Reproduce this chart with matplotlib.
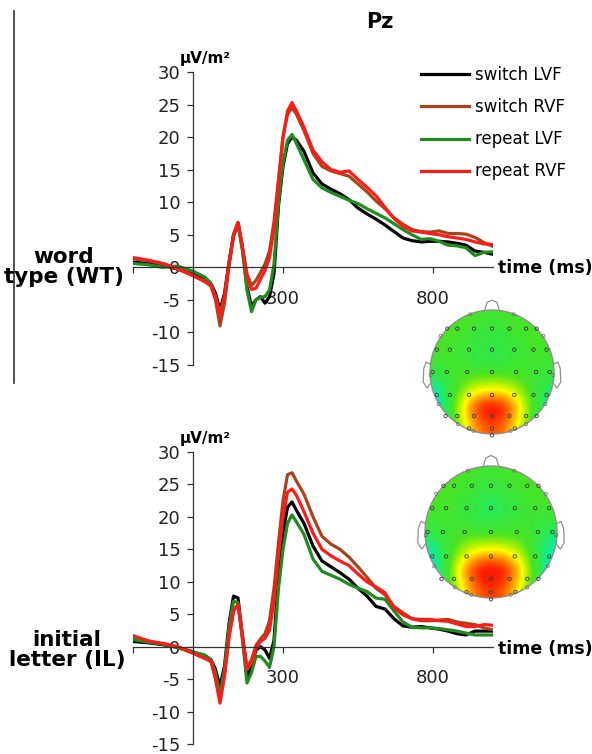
import numpy as np
import matplotlib.pyplot as plt
from matplotlib.colors import LinearSegmentedColormap
from matplotlib.patches import Circle
from matplotlib.lines import Line2D

plt.rcParams['axes.unicode_minus'] = False

# time axis (ms)
times = [-200, -150, -100, -50, 0, 40, 60, 75, 90, 105, 120, 135, 150, 165, 180, 195,
         210, 225, 240, 255, 270, 285, 300, 315, 330, 345, 370, 400, 430, 460, 490, 520,
         550, 580, 610, 640, 670, 700, 730, 760, 790, 820, 850, 880, 910, 940, 970, 1000]

# word type (WT) panel, uV/m^2
wt_switch_lvf = [0.8, 0.6, 0.3, -0.3, -1.0, -1.6, -2.5, -4.0, -6.6, -4.0, 0.8, 5.0, 6.8, 3.0, -3.0, -6.0,
                 -5.0, -4.5, -5.5, -4.5, -1.0, 9.5, 15.5, 19.0, 20.0, 19.5, 17.8, 14.5, 12.8, 12.0, 11.3, 10.4,
                 9.1, 8.2, 7.4, 6.5, 5.5, 4.5, 4.1, 3.9, 4.0, 4.0, 3.9, 3.7, 3.4, 2.5, 2.3, 2.0]
wt_switch_rvf = [1.3, 1.0, 0.5, -0.3, -1.3, -2.2, -2.9, -5.0, -9.0, -5.5, 0.2, 4.8, 6.8, 3.0, -1.0, -2.8,
                 -2.0, -0.8, 0.5, 2.5, 7.0, 13.5, 20.0, 23.5, 24.5, 23.5, 21.0, 17.5, 15.5, 14.8, 14.4, 14.0,
                 12.8, 11.6, 10.2, 9.0, 7.6, 6.6, 5.8, 5.5, 5.4, 5.6, 5.2, 5.2, 5.1, 4.6, 3.8, 3.2]
wt_repeat_lvf = [0.6, 0.4, 0.0, 0.2, -0.6, -1.5, -2.5, -4.5, -7.0, -4.5, 0.5, 4.8, 6.5, 2.5, -3.5, -6.8,
                 -5.0, -4.6, -4.5, -3.5, 0.5, 10.0, 16.0, 19.5, 20.4, 19.0, 16.5, 13.5, 12.2, 11.5, 10.9, 10.3,
                 9.8, 9.0, 8.3, 7.6, 6.7, 5.8, 5.0, 4.3, 4.4, 4.0, 3.4, 3.3, 3.0, 1.8, 2.3, 2.4]
wt_repeat_rvf = [1.5, 1.1, 0.6, -0.2, -1.2, -2.2, -2.8, -4.5, -7.4, -4.5, 0.5, 5.0, 6.9, 3.0, -1.5, -3.4,
                 -3.2, -1.8, -0.5, 1.5, 6.0, 13.0, 20.0, 24.0, 25.3, 24.0, 21.5, 18.0, 16.2, 15.0, 14.6, 14.8,
                 13.5, 12.3, 11.0, 9.2, 7.5, 6.3, 5.6, 5.4, 5.2, 5.0, 4.7, 4.5, 4.3, 3.9, 3.6, 3.5]

# initial letter (IL) panel, uV/m^2
il_switch_lvf = [0.8, 0.6, 0.3, -0.1, -0.8, -1.5, -2.0, -3.5, -6.1, -3.0, 3.5, 7.8, 7.5, 1.5, -4.8, -3.0,
                 -0.5, 0.0, -0.5, -1.8, 1.0, 11.0, 17.5, 21.5, 22.3, 21.0, 19.0, 15.5, 13.2, 12.3, 11.4, 10.4,
                 9.0, 7.8, 6.2, 5.8, 4.3, 3.2, 3.0, 3.1, 2.9, 2.7, 2.4, 2.0, 1.8, 2.4, 2.4, 2.4]
il_switch_rvf = [1.4, 0.8, 0.4, -0.1, -1.0, -1.8, -2.3, -4.8, -8.0, -4.3, 1.5, 5.5, 6.5, 1.8, -3.2, -2.0,
                 0.2, 1.2, 2.0, 4.0, 9.0, 16.0, 22.5, 26.5, 26.8, 25.5, 23.5, 20.0, 17.0, 15.8, 15.0, 13.8,
                 12.3, 10.7, 9.0, 8.0, 6.2, 5.2, 4.3, 4.0, 4.0, 4.1, 4.2, 3.8, 3.6, 3.4, 2.9, 2.6]
il_repeat_lvf = [1.1, 0.7, 0.4, -0.2, -0.8, -1.3, -2.0, -4.0, -7.4, -3.5, 3.0, 7.0, 6.8, 1.0, -5.6, -4.0,
                 -1.5, -1.5, -2.2, -3.2, 0.0, 9.0, 15.0, 19.0, 20.3, 19.2, 17.3, 13.5, 11.6, 11.0, 10.4, 9.6,
                 9.0, 8.5, 7.5, 7.3, 5.5, 3.8, 3.0, 2.9, 2.9, 2.8, 2.6, 2.4, 2.1, 1.8, 1.8, 1.8]
il_repeat_rvf = [1.7, 0.9, 0.5, 0.0, -1.0, -1.8, -2.2, -5.0, -8.7, -4.5, 1.5, 5.5, 6.5, 1.5, -3.5, -2.5,
                 -0.2, 0.8, 1.3, 2.5, 7.0, 14.0, 20.0, 23.8, 24.3, 23.3, 20.8, 17.5, 15.0, 14.0, 13.2, 12.5,
                 11.2, 10.0, 9.2, 8.3, 6.0, 4.9, 4.3, 4.2, 4.2, 4.0, 3.9, 3.5, 3.1, 3.1, 3.4, 3.3]

labels = ['switch LVF', 'switch RVF', 'repeat LVF', 'repeat RVF']
colors = ['#000000', '#a8441c', '#1e8c1e', '#ff1a1a']

# scalp maps: relative amplitude on a coarse grid (front row first)
wt_topo = [[0.56, 0.57, 0.55, 0.53, 0.55, 0.57, 0.56],
           [0.57, 0.55, 0.51, 0.48, 0.51, 0.55, 0.57],
           [0.55, 0.53, 0.49, 0.46, 0.49, 0.53, 0.55],
           [0.50, 0.55, 0.54, 0.53, 0.54, 0.55, 0.50],
           [0.40, 0.56, 0.66, 0.70, 0.66, 0.56, 0.45],
           [0.35, 0.62, 0.90, 0.98, 0.90, 0.62, 0.42],
           [0.40, 0.57, 0.78, 0.88, 0.78, 0.57, 0.45]]
il_topo = [[0.56, 0.57, 0.55, 0.53, 0.55, 0.57, 0.56],
           [0.57, 0.55, 0.50, 0.47, 0.50, 0.55, 0.56],
           [0.55, 0.53, 0.48, 0.44, 0.48, 0.53, 0.53],
           [0.48, 0.55, 0.54, 0.52, 0.54, 0.55, 0.45],
           [0.40, 0.56, 0.67, 0.72, 0.67, 0.56, 0.40],
           [0.35, 0.64, 0.92, 0.99, 0.92, 0.64, 0.36],
           [0.40, 0.58, 0.80, 0.90, 0.80, 0.58, 0.40]]

# electrode layout (head radius = 1)
elec_rows = [(0.70, [-0.72, -0.56, -0.29, 0.0, 0.28, 0.55, 0.72]),
             (0.36, [-0.89, -0.68, -0.37, 0.0, 0.36, 0.67, 0.88]),
             (0.0, [-0.96, -0.73, -0.40, 0.0, 0.39, 0.71, 0.93]),
             (-0.37, [-0.89, -0.68, -0.37, 0.0, 0.36, 0.67, 0.88]),
             (-0.71, [-0.75, -0.56, -0.29, 0.0, 0.28, 0.55, 0.72]),
             (-0.91, [-0.37, 0.0, 0.37]),
             (-1.02, [0.0])]
rim_x = [-0.35, 0.35, -0.83, 0.83, -0.99, 0.99, -0.86, 0.86, -0.55, 0.55, -0.30, 0.30]
rim_y = [0.93, 0.93, 0.58, 0.58, -0.05, -0.05, -0.52, -0.52, -0.84, -0.84, -0.95, -0.95]

W, H = 592, 754


def box(left, top, w, h):
    return [left / W, 1 - (top + h) / H, w / W, h / H]


def fx(x):
    return x / W


def fy(y):
    return 1 - y / H


topo_cmap = LinearSegmentedColormap.from_list(
    'topo', [(0.0, '#0030ff'), (0.25, '#00e0ff'), (0.42, '#10ec98'), (0.48, '#30e848'),
             (0.56, '#48e424'), (0.63, '#a8f000'), (0.70, '#ffff00'), (0.80, '#ff8c00'),
             (0.90, '#ff2000'), (1.0, '#d00000')])

fig = plt.figure(figsize=(5.92, 7.54), dpi=100)


def erp_panel(rect, series, legend=False):
    ax = fig.add_axes(rect)
    for vals, c, lab in zip(series, colors, labels):
        ax.plot(times, vals, color=c, lw=2.3, label=lab)
    ax.set_xlim(-200, 1000)
    ax.set_ylim(-15, 30)
    ax.spines['left'].set_position(('data', 0))
    ax.spines['bottom'].set_position(('data', 0))
    ax.spines['top'].set_visible(False)
    ax.spines['right'].set_visible(False)
    for s in ('left', 'bottom'):
        ax.spines[s].set_color('#333333')
        ax.spines[s].set_linewidth(0.9)
    ax.set_yticks(range(-15, 31, 5))
    ax.set_xticks([-200, 300, 800])
    ax.set_xticklabels(['', '300', '800'])
    ax.tick_params(axis='y', direction='out', length=4, width=0.9, color='#333333',
                   labelsize=13, pad=5, labelcolor='#222222')
    ax.tick_params(axis='x', direction='out', length=4, width=0.9, color='#333333',
                   labelsize=13, pad=12, labelcolor='#222222')
    ax.set_axisbelow(True)
    ax.patch.set_visible(False)
    if legend:
        ax.legend(loc='upper left', bbox_to_anchor=(fx(421), fy(66)),
                  bbox_transform=fig.transFigure, frameon=False, fontsize=12,
                  handlelength=2.9, handletextpad=0.35, labelspacing=0.85,
                  borderpad=0, borderaxespad=0)
    return ax


def topo(cx, cy, r, grid):
    side = 2.5 * r
    ax = fig.add_axes(box(cx - side / 2, cy - side / 2, side, side))
    ax.set_xlim(-1.25, 1.25)
    ax.set_ylim(-1.25, 1.25)
    ax.set_aspect('equal')
    ax.axis('off')
    im = ax.imshow(grid, extent=(-1, 1, -1, 1), origin='upper', cmap=topo_cmap,
                   vmin=0, vmax=1, interpolation='bicubic')
    clip = Circle((0, 0), 1, transform=ax.transData)
    im.set_clip_path(clip)
    ax.add_patch(Circle((0, 0), 1, fill=False, ec='#909090', lw=1.0))
    ax.plot([-0.12, -0.08, 0, 0.08, 0.12], [0.99, 1.12, 1.16, 1.12, 0.99], color='#909090', lw=0.9)
    for sgn in (-1, 1):
        ax.plot([sgn * 0.985, sgn * 1.06, sgn * 1.10, sgn * 1.11, sgn * 1.05, sgn * 0.99],
                [0.12, 0.16, 0.06, -0.16, -0.26, -0.18], color='#909090', lw=0.9)
    ex, ey = [], []
    for yy, xs in elec_rows:
        ex += xs
        ey += [yy] * len(xs)
    ax.scatter(ex, ey, s=6, facecolors='none', edgecolors='#3c3c3c', linewidths=0.6)
    ax.scatter(rim_x, rim_y, s=5, facecolors='none', edgecolors='#6a6a6a', linewidths=0.5)
    return ax


erp_panel(box(133, 72, 360, 293), [wt_switch_lvf, wt_switch_rvf, wt_repeat_lvf, wt_repeat_rvf],
          legend=True)
erp_panel(box(133, 452, 360, 292), [il_switch_lvf, il_switch_rvf, il_repeat_lvf, il_repeat_rvf])

topo(492, 372, 62, wt_topo)
topo(491, 532, 66, il_topo)

# texts
fig.text(fx(380), fy(22), 'Pz', ha='center', va='center', fontsize=15, fontweight='bold')
fig.text(fx(180), fy(63), 'µV/m²', ha='left', va='baseline', fontsize=11, fontweight='bold')
fig.text(fx(180), fy(443), 'µV/m²', ha='left', va='baseline', fontsize=11, fontweight='bold')
fig.text(fx(498), fy(268), 'time (ms)', ha='left', va='center', fontsize=12.5, fontweight='bold')
fig.text(fx(498), fy(649), 'time (ms)', ha='left', va='center', fontsize=12.5, fontweight='bold')
fig.text(fx(64), fy(267), 'word\ntype (WT)', ha='center', va='center', fontsize=15.5,
         fontweight='bold', linespacing=1.0)
fig.text(fx(67), fy(650), 'initial\nletter (IL)', ha='center', va='center', fontsize=15.5,
         fontweight='bold', linespacing=1.0)

fig.add_artist(Line2D([fx(14), fx(14)], [fy(11), fy(383)], color='#333333', lw=1.2))

fig.savefig('out.png', dpi=100)
